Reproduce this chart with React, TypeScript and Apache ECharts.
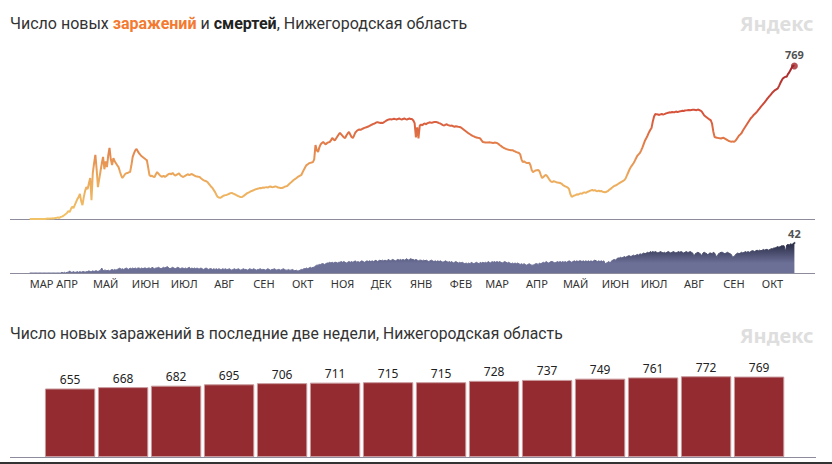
import React, { useEffect, useRef } from 'react';
import * as echarts from 'echarts';

const FONT = '"Noto Sans", "DejaVu Sans", sans-serif';
const TITLE_FONT = 'Roboto, "Noto Sans", sans-serif';
const START_DATE = '2020-03-03';
const MONTHS_RU = ['ЯНВ', 'ФЕВ', 'МАР', 'АПР', 'МАЙ', 'ИЮН', 'ИЮЛ', 'АВГ', 'СЕН', 'ОКТ', 'НОЯ', 'ДЕК'];

// Last two weeks (bar chart)
const twoWeekCases = [655, 668, 682, 695, 706, 711, 715, 715, 728, 737, 749, 761, 772, 769];

// Daily new cases by month
const casesMar20 = [0,0,0,0,0,0,0,0,0,0,0,0,0,1,2,1,3,2,4,3,5,6,8,5,10,12,15,20,25];
const casesApr20 = [30,40,35,50,62,55,70,85,100,110,126,90,70,110,140,160,150,180,206,95,230,280,322,250,160,200,240,280,312,250];
const casesMay20 = [290,261,320,357,300,271,306,290,280,270,261,240,220,206,215,225,230,231,235,236,270,312,330,345,352,340,330,322,315,310,305];
const casesJun20 = [300,296,260,221,215,218,212,211,225,236,228,220,215,212,218,211,215,222,226,228,225,231,224,218,222,226,230,220,215,211];
const casesJul20 = [214,218,222,225,220,224,226,222,218,215,214,212,211,205,200,195,192,190,186,178,170,162,156,145,135,122,111,108,106,110,115];
const casesAug20 = [118,120,121,124,127,130,131,128,125,122,118,115,112,110,111,115,120,125,130,133,136,140,142,145,148,150,152,154,156,155,158];
const casesSep20 = [157,159,160,158,162,163,161,160,162,164,161,158,157,156,156,158,162,164,166,172,178,184,190,196,200,205,210,214,218,221];
const casesOct20 = [235,248,260,271,275,280,282,284,286,300,372,345,337,360,375,382,387,380,375,382,385,387,395,407,400,395,405,415,425,432,425];
const casesNov20 = [418,410,407,420,430,437,425,412,407,420,435,442,447,450,448,452,455,458,460,462,465,468,472,475,478,480,484,487,485,483];
const casesDec20 = [484,482,486,490,494,498,500,502,500,502,504,502,500,503,505,502,500,503,505,502,500,503,505,502,502,495,482,410,460,405,470];
const casesJan21 = [475,470,478,480,476,482,484,486,483,485,487,488,487,485,482,480,476,472,470,474,476,472,470,468,470,466,464,466,465,463,462];
const casesFeb21 = [460,455,450,445,440,435,430,426,422,418,415,412,410,408,407,405,395,387,386,385,385,384,386,384,383,382,384,383];
const casesMar21 = [382,378,372,368,362,358,355,352,350,348,347,345,346,342,340,336,334,332,325,300,286,290,285,282,281,283,270,245,236,240,244];
const casesApr21 = [245,246,240,222,206,210,218,221,215,205,195,188,186,190,188,185,183,182,181,178,172,168,164,161,158,150,125,111,115,118];
const casesMay21 = [120,124,122,126,129,127,132,134,131,136,138,141,144,146,143,145,141,140,143,139,141,137,136,134,137,140,146,150,156,161,166];
const casesJun21 = [168,172,176,180,184,188,192,196,205,220,235,250,262,271,280,292,305,318,325,332,345,360,378,395,407,420,435,447,457,490];
const casesJul21 = [515,528,526,525,523,526,528,525,527,530,532,534,536,535,538,536,537,540,538,539,541,542,544,543,545,546,547,548,547,548,549];
const casesAug21 = [549,548,547,550,548,545,540,530,520,515,510,505,500,497,480,440,412,410,408,407,406,405,407,408,404,400,396,392,390,388,390];
const casesSep21 = [388,392,400,410,420,425,432,445,455,465,475,485,495,505,512,520,527,533,540,548,556,565,572,580,588,596,605,613,620,628];
const casesOct21 = [636, 642, 648, 652, ...twoWeekCases];

// Daily deaths by month
const deathsMar20 = [0,0,0,0,0,0,0,0,0,0,0,0,0,0,0,0,0,0,0,0,0,0,0,0,0,1,0,1,0];
const deathsApr20 = [1,1,3,1,1,2,1,1,2,1,2,1,2,2,1,2,2,3,2,2,3,2,3,3,2,3,4,7,3,4];
const deathsMay20 = [4,3,4,3,4,5,4,5,4,5,6,7,5,6,5,6,7,6,5,7,6,7,6,7,6,7,7,6,7,6,7];
const deathsJun20 = [7,6,7,7,6,8,7,6,7,7,8,7,6,7,8,7,8,9,7,6,7,8,7,6,7,8,7,6,7,7];
const deathsJul20 = [6,7,6,7,8,6,7,6,7,6,7,6,6,7,6,5,6,7,6,5,6,6,5,6,5,6,5,6,5,5,6];
const deathsAug20 = [5,6,5,5,6,5,4,5,6,5,5,6,5,4,5,6,5,5,4,5,6,5,5,6,5,4,5,5,6,5,5];
const deathsSep20 = [5,4,5,6,5,4,5,5,6,5,4,5,5,4,5,6,5,4,4,5,4,4,5,4,3,4,3,3,4,5];
const deathsOct20 = [5,6,6,7,6,7,8,7,8,8,10,11,11,12,12,13,13,12,13,14,14,15,14,15,14,15,15,14,15,15,16];
const deathsNov20 = [15,16,15,14,15,16,15,16,15,16,17,15,16,15,16,17,16,15,16,17,16,17,16,17,16,17,18,16,17,18];
const deathsDec20 = [17,18,17,18,17,18,19,17,18,19,18,17,18,19,18,19,18,19,18,19,20,18,19,20,19,19,18,19,18,17,18];
const deathsJan21 = [18,17,18,17,18,17,16,17,18,17,16,17,16,17,16,17,16,15,16,17,16,15,16,15,16,14,15,16,15,14,15];
const deathsFeb21 = [14,15,14,13,14,13,14,13,15,14,13,14,15,14,13,15,14,15,14,15,14,16,15,14,16,15,16,15];
const deathsMar21 = [16,15,16,15,14,15,16,15,14,15,14,13,14,13,14,13,14,13,12,13,12,13,12,11,12,13,12,11,11,12,13];
const deathsApr21 = [13,12,14,13,14,15,14,16,15,14,15,16,16,15,14,15,16,15,16,15,16,15,16,15,16,17,16,15,16,17];
const deathsMay21 = [16,17,16,17,17,16,17,16,17,16,17,16,17,16,17,18,17,16,17,16,17,16,17,13,14,15,16,14,17,18,19];
const deathsJun21 = [18,20,21,21,22,21,22,23,22,23,24,24,23,24,25,24,25,26,25,27,26,27,28,27,28,29,28,30,29,30];
const deathsJul21 = [29,30,29,28,29,30,29,28,29,28,29,30,29,28,29,30,29,28,29,30,29,30,29,28,29,30,29,29,30,29,28];
const deathsAug21 = [23,27,28,29,28,27,24,28,29,28,27,25,28,28,27,29,28,24,23,27,28,29,29,28,27,28,29,28,27,26,22];
const deathsSep21 = [23,25,27,28,27,28,29,28,29,30,29,30,29,30,31,31,30,31,32,31,32,31,32,33,32,33,33,32,33,34];
const deathsOct21 = [34,35,35,36,37,36,37,38,38,38,30,39,40,39,41,40,41,42];

const cases = [
  ...casesMar20, ...casesApr20, ...casesMay20, ...casesJun20, ...casesJul20, ...casesAug20,
  ...casesSep20, ...casesOct20, ...casesNov20, ...casesDec20, ...casesJan21, ...casesFeb21,
  ...casesMar21, ...casesApr21, ...casesMay21, ...casesJun21, ...casesJul21, ...casesAug21,
  ...casesSep21, ...casesOct21,
];
const deaths = [
  ...deathsMar20, ...deathsApr20, ...deathsMay20, ...deathsJun20, ...deathsJul20, ...deathsAug20,
  ...deathsSep20, ...deathsOct20, ...deathsNov20, ...deathsDec20, ...deathsJan21, ...deathsFeb21,
  ...deathsMar21, ...deathsApr21, ...deathsMay21, ...deathsJun21, ...deathsJul21, ...deathsAug21,
  ...deathsSep21, ...deathsOct21,
];

function buildDates(start: string, n: number): string[] {
  const base = new Date(start + 'T00:00:00Z').getTime();
  const out: string[] = [];
  for (let i = 0; i < n; i++) out.push(new Date(base + i * 86400000).toISOString().slice(0, 10));
  return out;
}

const dates = buildDates(START_DATE, cases.length);

export default function App() {
  const ref = useRef<HTMLDivElement>(null);

  useEffect(() => {
    document.body.style.margin = '0';
    if (!ref.current) return;
    const chart = echarts.init(ref.current, null, { renderer: 'svg' });
    const N = cases.length;
    const caseMax = Math.max(...cases);
    const deathMax = Math.max(...deaths);

    const lineGrad = {
      type: 'linear', x: 0, y: 66, x2: 0, y2: 219, global: true,
      colorStops: [
        { offset: 0, color: '#a3262b' },
        { offset: 0.29, color: '#d5503a' },
        { offset: 0.5, color: '#e27b48' },
        { offset: 0.72, color: '#eba85c' },
        { offset: 1, color: '#f2c266' },
      ],
    };
    const deathGrad = {
      type: 'linear', x: 0, y: 243, x2: 0, y2: 263, global: true,
      colorStops: [
        { offset: 0, color: '#272a43' },
        { offset: 1, color: '#6c6f96' },
      ],
    };

    const endLabel = {
      show: true, position: 'top', distance: 2, fontSize: 11, fontWeight: 'bold', color: '#222',
      fontFamily: FONT, formatter: (p: any) => String(p.value[1]),
    };

    const option = {
      animation: false,
      textStyle: { fontFamily: FONT },
      title: [
        {
          text: 'Число новых {o|заражений} и {b|смертей}, Нижегородская область',
          left: 10, top: 15, padding: 0,
          textStyle: {
            fontSize: 16, fontWeight: 'normal', color: '#333', fontFamily: TITLE_FONT,
            rich: {
              o: { fontSize: 16, fontWeight: 'bold', color: '#f37a30', fontFamily: TITLE_FONT },
              b: { fontSize: 16, fontWeight: 'bold', color: '#222', fontFamily: TITLE_FONT },
            },
          },
        },
        {
          text: 'Число новых заражений в последние две недели, Нижегородская область',
          left: 10, top: 325, padding: 0,
          textStyle: { fontSize: 15.7, fontWeight: 'normal', color: '#333', fontFamily: TITLE_FONT },
        },
      ],
      grid: [
        { left: 29.7, width: 764.7, top: 65.4, height: 153.6 },
        { left: 29.7, width: 764.7, top: 243, height: 30 },
        { left: 43.6, width: 742, top: 352.4, height: 104.6 },
      ],
      xAxis: [
        { type: 'category', gridIndex: 0, data: dates, boundaryGap: false, show: false },
        {
          type: 'category', gridIndex: 1, data: dates, boundaryGap: false,
          axisLine: { show: false }, axisTick: { show: false },
          axisLabel: {
            interval: (index: number, value: string) => index === 0 || value.slice(8) === '01',
            formatter: (value: string) => MONTHS_RU[parseInt(value.slice(5, 7), 10) - 1],
            alignMinLabel: 'left',
            margin: 5, fontSize: 11, color: '#333', fontFamily: FONT,
          },
        },
        { type: 'category', gridIndex: 2, data: dates.slice(-twoWeekCases.length), show: false },
      ],
      yAxis: [
        { type: 'value', gridIndex: 0, min: 0, max: caseMax, show: false },
        { type: 'value', gridIndex: 1, min: 0, max: deathMax, show: false },
        { type: 'value', gridIndex: 2, min: 0, max: 1000, show: false },
      ],
      series: [
        {
          type: 'line', xAxisIndex: 0, yAxisIndex: 0, data: cases, symbol: 'none',
          lineStyle: { width: 2, color: lineGrad }, z: 3,
        },
        {
          type: 'scatter', xAxisIndex: 0, yAxisIndex: 0,
          data: [[dates[N - 1], cases[N - 1]]], symbolSize: 7,
          itemStyle: { color: '#a3262b' }, z: 4, label: endLabel,
        },
        {
          type: 'line', xAxisIndex: 1, yAxisIndex: 1, data: deaths, symbol: 'none',
          lineStyle: { width: 1, color: deathGrad }, areaStyle: { color: deathGrad, opacity: 1 }, z: 3,
        },
        {
          type: 'scatter', xAxisIndex: 1, yAxisIndex: 1,
          data: [[dates[N - 1], deaths[N - 1]]], symbolSize: 2,
          itemStyle: { color: '#272a43' }, z: 4, label: { ...endLabel, distance: 3 },
        },
        {
          type: 'bar', xAxisIndex: 2, yAxisIndex: 2, data: twoWeekCases, barCategoryGap: '5%',
          itemStyle: { color: '#932b30', borderColor: '#c9999c', borderWidth: 1 },
          label: { show: true, position: 'top', distance: 3, fontSize: 12, color: '#222', fontFamily: FONT },
        },
      ],
      graphic: [
        { type: 'line', shape: { x1: 10, y1: 219.5, x2: 815, y2: 219.5 }, style: { stroke: '#8c8c9c', lineWidth: 1 }, z: 1 },
        { type: 'line', shape: { x1: 10, y1: 273.5, x2: 815, y2: 273.5 }, style: { stroke: '#8c8c9c', lineWidth: 1 }, z: 1 },
        { type: 'line', shape: { x1: 10, y1: 457.5, x2: 816, y2: 457.5 }, style: { stroke: '#8c8c9c', lineWidth: 1 }, z: 1 },
        { type: 'text', left: 740, top: 13, style: { text: 'Яндекс', fontSize: 20, fontWeight: 'bold', fill: '#dedede', fontFamily: FONT } },
        { type: 'text', left: 740, top: 325, style: { text: 'Яндекс', fontSize: 20, fontWeight: 'bold', fill: '#dedede', fontFamily: FONT } },
        { type: 'rect', shape: { x: 0, y: 462, width: 832, height: 2 }, style: { fill: '#333' } },
      ],
    };

    chart.setOption(option as any);
    return () => chart.dispose();
  }, []);

  return <div ref={ref} style={{ width: 832, height: 464 }} />;
}
